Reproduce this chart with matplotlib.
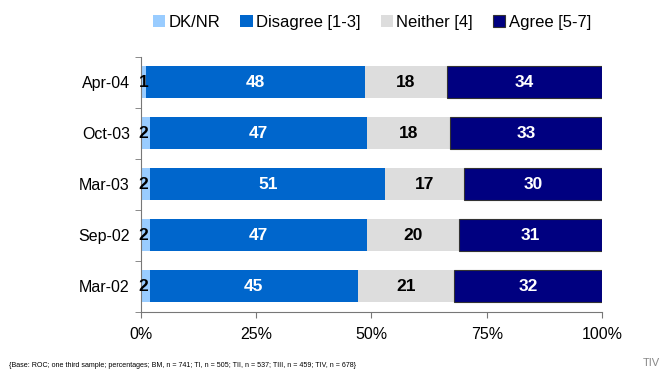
import matplotlib.pyplot as plt
import numpy as np

plt.rcParams['font.family'] = ['Liberation Sans', 'DejaVu Sans']

waves = ['Apr-04', 'Oct-03', 'Mar-03', 'Sep-02', 'Mar-02']
dknr = [1, 2, 2, 2, 2]
disagree = [48, 47, 51, 47, 45]
neither = [18, 18, 17, 20, 21]
agree = [34, 33, 30, 31, 32]

series = [('DK/NR', dknr, '#99ccff', 'black'),
          ('Disagree [1-3]', disagree, '#0066cc', 'white'),
          ('Neither [4]', neither, '#dddddd', 'black'),
          ('Agree [5-7]', agree, '#000080', 'white')]

# rows are scaled so every bar fills 0-100%
vals = np.array([s[1] for s in series], dtype=float)
scaled = vals / vals.sum(axis=0) * 100

fig = plt.figure(figsize=(6.7, 3.79), dpi=100)
ax = fig.add_axes([0.2104, 0.177, 0.6881, 0.673])

y = np.arange(len(waves))
left = np.zeros(len(waves))
for i, (name, raw, color, tcol) in enumerate(series):
    w = scaled[i]
    edge = '#333333' if name.startswith('Agree') else color
    ax.barh(y, w, left=left, height=0.63, color=color, edgecolor=edge,
            linewidth=0.8 if name.startswith('Agree') else 0, label=name)
    for j in range(len(waves)):
        cx = left[j] + w[j] / 2
        if i == 0:
            cx = left[j] + 0.6
        ax.text(cx, y[j], str(raw[j]), ha='center', va='center',
                color=tcol, fontsize=12.5, fontweight='bold')
    left += w

ax.set_ylim(len(waves) - 0.5, -0.5)
ax.set_xlim(0, 100)
ax.set_yticks(y)
ax.set_yticklabels(waves, fontsize=11.5)
ax.set_yticks(np.arange(-0.5, len(waves)), minor=True)
ax.tick_params(axis='y', which='major', length=0, pad=8)
ax.tick_params(axis='y', which='minor', length=4, color='#777777')
ax.set_xticks([0, 25, 50, 75, 100])
ax.set_xticklabels(['0%', '25%', '50%', '75%', '100%'], fontsize=11.5)
ax.tick_params(axis='x', length=4, color='#777777', pad=7)
for s in ['top', 'right']:
    ax.spines[s].set_visible(False)
ax.spines['left'].set_color('#777777')
ax.spines['bottom'].set_color('#777777')

fig.legend(loc='upper center', bbox_to_anchor=(0.555, 1.0), ncol=4,
           frameon=False, fontsize=12, handlelength=0.75, handleheight=0.75,
           handletextpad=0.2, columnspacing=1.2)

fig.text(0.014, 0.032, '{Base: ROC; one third sample; percentages; BM, n = 741; TI, n = 505; '
         'TII, n = 537; TIII, n = 459; TIV, n = 678}', fontsize=5.1)
fig.text(0.985, 0.035, 'TIV', fontsize=8, color='#888888', ha='right')

fig.savefig('out.png', dpi=100)
